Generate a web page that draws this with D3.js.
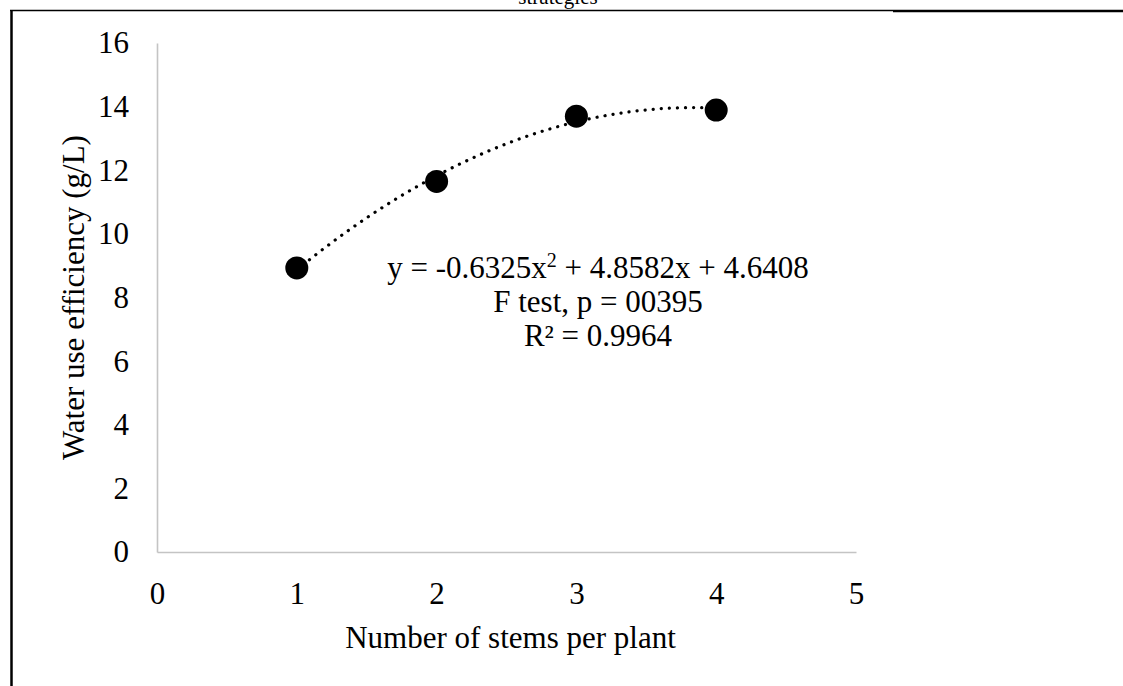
<!DOCTYPE html>
<html>
<head>
<meta charset="utf-8">
<script src="https://cdn.jsdelivr.net/npm/d3@7"></script>
<style>
  body { margin: 0; background: #fff; }
  svg { display: block; font-family: "Liberation Serif", "Times New Roman", serif; }
</style>
</head>
<body>
<svg id="chart" width="1123" height="686"></svg>
<script>
// values
const stems = [1, 2, 3, 4]
const wue = [8.93, 11.65, 13.70, 13.89]
const xTicks = [0, 1, 2, 3, 4, 5]
const yTicks = [0, 2, 4, 6, 8, 10, 12, 14, 16]
// quadratic trendline as printed on the chart: a*x^2 + b*x + c
const trendCoef = [-0.6325, 4.8582, 4.6408]
const statLines = ['F test, p = 00395', 'R² = 0.9964']

const config = {
  margin: { top: 43, right: 267, bottom: 134, left: 157 },
  axisColor: '#c4c4c4',
  fontSize: 31
}

const svg = d3.select('#chart')
const W = +svg.attr('width')
const H = +svg.attr('height')
const { margin } = config

const x = d3.scaleLinear()
  .domain([0, 5])
  .range([margin.left, W - margin.right])

const y = d3.scaleLinear()
  .domain([0, 16])
  .range([H - margin.bottom, margin.top])

// page frame bits (cropped document)
svg.append('text')
  .attr('x', 558).attr('y', 4)
  .attr('text-anchor', 'middle')
  .attr('font-size', 21)
  .text('strategies')

svg.append('line')
  .attr('x1', 10).attr('x2', 893).attr('y1', 10.5).attr('y2', 10.5)
  .attr('stroke', '#000').attr('stroke-width', 1.3)
svg.append('line')
  .attr('x1', 893).attr('x2', W).attr('y1', 11).attr('y2', 11)
  .attr('stroke', '#000').attr('stroke-width', 2.5)
svg.append('line')
  .attr('x1', 11.5).attr('x2', 11.5).attr('y1', 10).attr('y2', H)
  .attr('stroke', '#000').attr('stroke-width', 2.5)

// axes
const xAxis = d3.axisBottom(x).tickValues(xTicks).tickFormat(d3.format('d')).tickSize(0).tickPadding(30)
const yAxis = d3.axisLeft(y).tickValues(yTicks).tickFormat(d3.format('d')).tickSize(0).tickPadding(28)

const gx = svg.append('g')
  .attr('transform', 'translate(0,' + y(0) + ')')
  .call(xAxis)
const gy = svg.append('g')
  .attr('transform', 'translate(' + x(0) + ',0)')
  .call(yAxis)

;[gx, gy].forEach(g => {
  g.select('.domain').attr('stroke', config.axisColor).attr('stroke-width', 1.6)
  g.selectAll('text')
    .attr('font-family', '"Liberation Serif", "Times New Roman", serif')
    .attr('font-size', config.fontSize)
    .attr('fill', '#000')
})

// axis titles
svg.append('text')
  .attr('x', (x(0) + x(5)) / 2 + 4)
  .attr('y', 648)
  .attr('text-anchor', 'middle')
  .attr('font-size', config.fontSize)
  .text('Number of stems per plant')

svg.append('text')
  .attr('transform', 'translate(84,' + (y(0) + y(16)) / 2 + ') rotate(-90)')
  .attr('text-anchor', 'middle')
  .attr('font-size', config.fontSize)
  .text('Water use efficiency (g/L)')

// trendline
const poly = v => trendCoef[0] * v * v + trendCoef[1] * v + trendCoef[2]
const trendX = d3.range(stems[0], stems[stems.length - 1] + 0.001, 0.05)

svg.append('path')
  .datum(trendX)
  .attr('d', d3.line().x(d => x(d)).y(d => y(poly(d))).curve(d3.curveMonotoneX))
  .attr('fill', 'none')
  .attr('stroke', '#000')
  .attr('stroke-width', 3.2)
  .attr('stroke-linecap', 'round')
  .attr('stroke-dasharray', '0.1 8')

// points
svg.append('g').selectAll('circle')
  .data(stems.map((s, i) => ({ s, v: wue[i] })))
  .enter().append('circle')
  .attr('cx', d => x(d.s))
  .attr('cy', d => y(d.v))
  .attr('r', 11.5)
  .attr('fill', '#000')

// equation / stats label
const labelX = 598
const eq = svg.append('text')
  .attr('x', labelX).attr('y', 278)
  .attr('text-anchor', 'middle')
  .attr('font-size', config.fontSize)
eq.append('tspan').text('y = ' + trendCoef[0] + 'x')
eq.append('tspan').attr('font-size', 20).attr('dy', -11).text('2')
eq.append('tspan').attr('dy', 11).text(' + ' + trendCoef[1] + 'x + ' + trendCoef[2])

svg.append('g').selectAll('text')
  .data(statLines)
  .enter().append('text')
  .attr('x', labelX)
  .attr('y', (d, i) => 312 + i * 33.5)
  .attr('text-anchor', 'middle')
  .attr('font-size', config.fontSize)
  .text(d => d)
</script>
</body>
</html>
